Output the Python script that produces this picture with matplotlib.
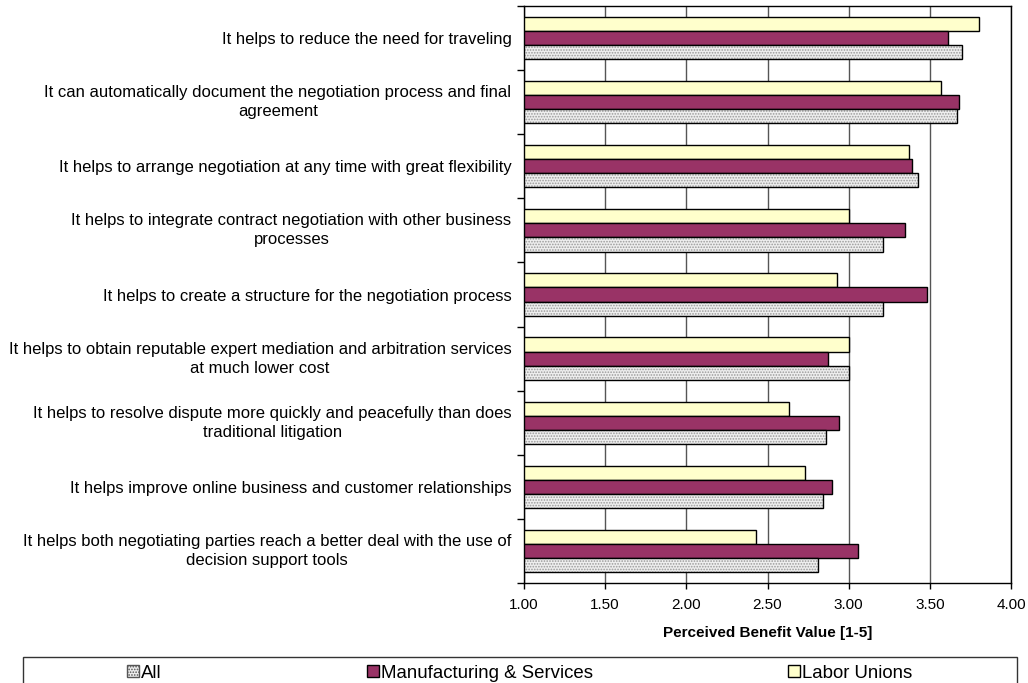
import matplotlib
matplotlib.use("Agg")
import matplotlib.pyplot as plt
from matplotlib.patches import Rectangle
import numpy as np

plt.rcParams['font.family'] = ['Liberation Sans', 'DejaVu Sans']
plt.rcParams['hatch.linewidth'] = 0.8

categories = [
    "It helps to reduce the need for traveling",
    "It can automatically document the negotiation process and final\nagreement",
    "It helps to arrange negotiation at any time with great flexibility",
    "It helps to integrate contract negotiation with other business\nprocesses",
    "It helps to create a structure for the negotiation process",
    "It helps to obtain reputable expert mediation and arbitration services\nat much lower cost",
    "It helps to resolve dispute more quickly and peacefully than does\ntraditional litigation",
    "It helps improve online business and customer relationships",
    "It helps both negotiating parties reach a better deal with the use of\ndecision support tools",
]
all_vals = [3.70, 3.67, 3.43, 3.21, 3.21, 3.00, 2.86, 2.84, 2.81]
manuf_vals = [3.61, 3.68, 3.39, 3.35, 3.48, 2.87, 2.94, 2.90, 3.06]
labor_vals = [3.80, 3.57, 3.37, 3.00, 2.93, 3.00, 2.63, 2.73, 2.43]
series_names = ["All", "Manufacturing & Services", "Labor Unions"]
x_ticks = [1.00, 1.50, 2.00, 2.50, 3.00, 3.50, 4.00]

fig = plt.figure(figsize=(10.28, 6.83), dpi=100)
ax = fig.add_axes([524 / 1028, 1 - 583 / 683, (1011 - 524) / 1028, (583 - 6) / 683])

n = len(categories)
pos = np.arange(n)
h = 0.22
base = 1.0
ax.barh(pos - h, np.array(labor_vals) - base, left=base, height=h,
        color='#FFFFCC', edgecolor='black', linewidth=1.0, zorder=3)
ax.barh(pos, np.array(manuf_vals) - base, left=base, height=h,
        color='#993366', edgecolor='black', linewidth=1.0, zorder=3)
ax.barh(pos + h, np.array(all_vals) - base, left=base, height=h,
        color='#eeeeee', edgecolor='#9a9a9a', hatch='......', linewidth=0, zorder=3)
ax.barh(pos + h, np.array(all_vals) - base, left=base, height=h,
        color='none', edgecolor='black', linewidth=1.0, zorder=4)

ax.set_xlim(1.0, 4.0)
ax.set_ylim(n - 0.5, -0.5)
ax.set_xticks(x_ticks)
ax.set_xticklabels([f"{v:.2f}" for v in x_ticks], fontsize=11)
ax.xaxis.grid(True, color='#555555', linewidth=1.0, zorder=0)
ax.set_axisbelow(True)

ax.set_yticks(pos)
ax.set_yticklabels(categories, fontsize=12)
for lbl in ax.get_yticklabels():
    lbl.set_multialignment('center')
    lbl.set_linespacing(1.35)
    if "\n" in lbl.get_text():
        lbl.set_verticalalignment('center')
ax.tick_params(axis='y', which='major', length=0, pad=9)
ax.set_yticks(np.arange(n + 1) - 0.5, minor=True)
ax.tick_params(axis='y', which='minor', length=5, width=1, direction='out')
ax.tick_params(axis='x', length=4, width=1, direction='out', pad=7)

for s in ax.spines.values():
    s.set_linewidth(1.0)
    s.set_color('black')

ax.set_xlabel("Perceived Benefit Value [1-5]", fontsize=11, fontweight='bold', labelpad=10)

# legend box along the bottom edge
fig.patches.append(Rectangle((23 / 1028, -0.01), (1017 - 23) / 1028, (683 - 657) / 683 + 0.01,
                             transform=fig.transFigure, facecolor='white',
                             edgecolor='#333333', linewidth=1.0))
handles = [
    Rectangle((0, 0), 1, 1, facecolor='#eeeeee', edgecolor='#555555', hatch='......'),
    Rectangle((0, 0), 1, 1, facecolor='#993366', edgecolor='black'),
    Rectangle((0, 0), 1, 1, facecolor='#FFFFCC', edgecolor='black'),
]
entry_x = [127, 367, 788]
for hnd, name, x0 in zip(handles, series_names, entry_x):
    fig.legend([hnd], [name], loc='center left',
               bbox_to_anchor=(x0 / 1028, 1 - 673 / 683),
               frameon=False, fontsize=13.4, handlelength=0.62, handleheight=0.62,
               handletextpad=0.15, borderpad=0, borderaxespad=0)

fig.savefig("out.png", dpi=100)
